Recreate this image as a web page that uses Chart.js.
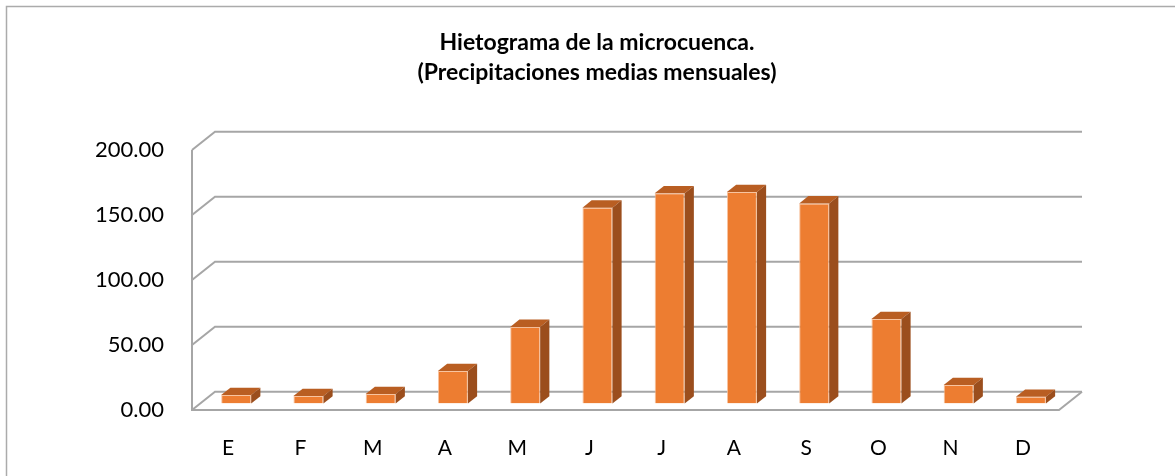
<!DOCTYPE html>
<html>
<head>
<meta charset="utf-8">
<title>Hietograma</title>
<script src="https://cdn.jsdelivr.net/npm/chart.js@4"></script>
<style>
  html, body { margin: 0; padding: 0; background: #fff; }
  canvas { display: block; }
</style>
</head>
<body>
<canvas id="hietograma" width="1175" height="476"></canvas>
<script>
// monthly mean precipitation (mm)
const months = ['E', 'F', 'M', 'A', 'M', 'J', 'J', 'A', 'S', 'O', 'N', 'D'];
const precip = [6.6, 5.8, 7.4, 25.0, 59.0, 150.7, 161.8, 162.8, 154.0, 65.0, 14.3, 5.3];
const titleLines = ['Hietograma de la microcuenca.', '(Precipitaciones medias mensuales)'];
const yMax = 200;
const yStep = 50;

// fake 3d: depth of the back wall and of the bars
const DX = 23, DY = -18.3;
const BAR_FRONT = 0.35, BAR_DEPTH = 0.4;
const gridColor = '#a6a6a6';
const frontColor = '#ed7d31';
const topColor = '#b95e22';
const sideColor = '#9b4e1d';

const walls3d = {
   id: 'walls3d',
   beforeDraw(chart) {
      const ctx = chart.ctx;
      ctx.save();
      ctx.fillStyle = '#fff';
      ctx.fillRect(0, 0, chart.width, chart.height);
      ctx.strokeStyle = '#ababab';
      ctx.lineWidth = 1.5;
      ctx.strokeRect(6.5, 6.5, chart.width + 10, chart.height + 10);
      ctx.restore();
   },
   beforeDatasetsDraw(chart) {
      const { ctx, chartArea: a, scales: { y } } = chart;
      ctx.save();
      ctx.strokeStyle = gridColor;
      ctx.lineWidth = 2;
      y.ticks.forEach(t => {
         const py = y.getPixelForValue(t.value);
         ctx.beginPath();
         ctx.moveTo(a.left, py);
         ctx.lineTo(a.left + DX, py + DY);
         ctx.lineTo(a.right + DX, py + DY);
         ctx.stroke();
      });
      // left wall edge and front edge of the floor
      const y0 = y.getPixelForValue(0);
      ctx.beginPath();
      ctx.moveTo(a.left, y.getPixelForValue(y.max));
      ctx.lineTo(a.left, y0);
      ctx.lineTo(a.right, y0);
      ctx.lineTo(a.right + DX, y0 + DY);
      ctx.stroke();
      ctx.restore();

      // bars stand a bit behind the front plane
      ctx.save();
      ctx.translate(DX * BAR_FRONT, DY * BAR_FRONT);
   },
   afterDatasetsDraw(chart) {
      const ctx = chart.ctx;
      const dx = DX * BAR_DEPTH, dy = DY * BAR_DEPTH;
      chart.getDatasetMeta(0).data.forEach(bar => {
         const { x, y, base, width } = bar.getProps(['x', 'y', 'base', 'width'], true);
         const l = x - width / 2, r = x + width / 2;
         ctx.fillStyle = topColor;
         ctx.beginPath();
         ctx.moveTo(l, y);
         ctx.lineTo(l + dx, y + dy);
         ctx.lineTo(r + dx, y + dy);
         ctx.lineTo(r, y);
         ctx.closePath();
         ctx.fill();
         ctx.fillStyle = sideColor;
         ctx.beginPath();
         ctx.moveTo(r, y);
         ctx.lineTo(r + dx, y + dy);
         ctx.lineTo(r + dx, base + dy);
         ctx.lineTo(r, base);
         ctx.closePath();
         ctx.fill();
      });
      ctx.restore();
   }
};

Chart.defaults.font.family = 'Lato, Carlito, sans-serif';
Chart.defaults.color = '#000';

const ctx = document.getElementById('hietograma').getContext('2d');
const hietograma = new Chart(ctx, {
   type: 'bar',
   data: {
      labels: months,
      datasets: [{
         label: 'Precipitación',
         data: precip,
         backgroundColor: frontColor,
         borderColor: 'rgba(247, 190, 150, 0.9)',
         borderWidth: 1,
         barPercentage: 0.415,
         categoryPercentage: 1
      }]
   },
   options: {
      responsive: false,
      animation: false,
      layout: {
         padding: { top: 28, left: 19, right: 0, bottom: 0 }
      },
      plugins: {
         legend: { display: false },
         tooltip: { enabled: false },
         title: {
            display: true,
            text: titleLines,
            color: '#000',
            font: { size: 23, weight: 'bold', lineHeight: '30px' },
            padding: { top: 0, bottom: 62 }
         }
      },
      scales: {
         x: {
            grid: { display: false },
            border: { display: false },
            ticks: { font: { size: 21 }, padding: 18 },
            afterFit: scale => { scale.height = 66; }
         },
         y: {
            min: 0,
            max: yMax,
            grid: { display: false },
            border: { display: false },
            ticks: {
               stepSize: yStep,
               font: { size: 22 },
               padding: 20,
               callback: v => v.toFixed(2)
            },
            afterFit: scale => { scale.width = 173; }
         },
         // empty space right of the floor
         yRight: {
            position: 'right',
            grid: { display: false },
            border: { display: false },
            ticks: { display: false },
            afterFit: scale => { scale.width = 116; }
         }
      }
   },
   plugins: [walls3d]
});
</script>
</body>
</html>
